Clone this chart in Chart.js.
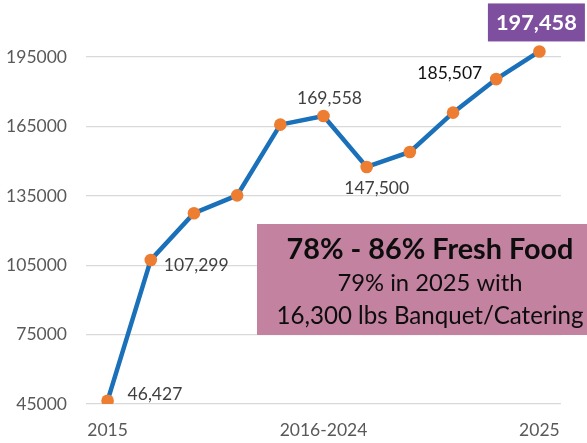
<!DOCTYPE html>
<html>
<head>
<meta charset="utf-8">
<script src="https://cdn.jsdelivr.net/npm/chart.js@4/dist/chart.umd.min.js"></script>
<style>
  html, body { margin: 0; padding: 0; background: #ffffff; }
  #wrap { width: 587px; height: 443px; position: relative; }
</style>
</head>
<body>
<div id="wrap"><canvas id="c"></canvas></div>
<script>
// ---- data ----
const years = ['2015','2016','2017','2018','2019','2020','2021','2022','2023','2024','2025'];
const pounds = [46427, 107299, 127500, 135200, 165800, 169558, 147500, 154000, 171000, 185507, 197458];
const xTickLabels = ['2015','','','','','2016-2024','','','','','2025'];
const yTickValues = [45000, 75000, 105000, 135000, 165000, 195000];
const labelledPoints = [0, 1, 5, 6, 9, 10];
const noteLines = ['78% - 86% Fresh Food', '79% in 2025 with', '16,300 lbs Banquet/Catering'];

// ---- styles ----
const FONT = 'Lato, "Open Sans", sans-serif';
Chart.defaults.font.family = FONT;
const labelStyle = {
  0:  { dx: 20,  dy: -7,  align: 'left',   color: '#404040' },
  1:  { dx: 13,  dy: 4,   align: 'left',   color: '#404040' },
  5:  { dx: 6,   dy: -19, align: 'center', color: '#404040' },
  6:  { dx: 10,  dy: 20,  align: 'center', color: '#404040' },
  9:  { dx: -14, dy: -7,  align: 'right',  color: '#111111' },
  10: { dx: -3,  dy: -29, align: 'center', color: '#ffffff', bold: true, box: '#7F4F9F' }
};
// note box: text lines fitted to target widths
const noteStyle = [
  { bold: true,  width: 287, base: 35 },
  { bold: false, width: 185, base: 67 },
  { bold: false, width: 307, base: 100 }
];

function fitFont(ctx, text, bold, target) {
  let size = 20;
  ctx.font = (bold ? 'bold ' : '') + size + 'px ' + FONT;
  const w = ctx.measureText(text).width;
  size = size * target / w;
  return (bold ? 'bold ' : '') + size.toFixed(2) + 'px ' + FONT;
}

const labelsPlugin = {
  id: 'valueLabels',
  afterDatasetsDraw(chart) {
    const ctx = chart.ctx;
    const meta = chart.getDatasetMeta(0);
    ctx.save();
    labelledPoints.forEach(i => {
      const st = labelStyle[i];
      const el = meta.data[i];
      const text = pounds[i].toLocaleString('en-US');
      const x = el.x + st.dx, y = el.y + st.dy;
      ctx.font = st.bold ? fitFont(ctx, text, true, 81) : '17.5px ' + FONT;
      ctx.textBaseline = 'middle';
      if (st.box) {
        const w = 97, h = 38;
        ctx.fillStyle = st.box;
        ctx.fillRect(x - w / 2, y - h / 2, w, h);
      }
      ctx.fillStyle = st.color;
      ctx.textAlign = st.align;
      ctx.fillText(text, x, y + 1);
    });
    ctx.restore();
  },
  afterDraw(chart) {
    const ctx = chart.ctx;
    const a = chart.chartArea;
    const left = a.left + 171, top = a.top + 190;
    const w = chart.width - left, h = 111;
    ctx.save();
    ctx.fillStyle = '#C3829F';
    ctx.fillRect(left, top, w, h);
    ctx.fillStyle = '#0d0d0d';
    ctx.textAlign = 'center';
    ctx.textBaseline = 'alphabetic';
    const cx = left + 173;
    noteLines.forEach((t, k) => {
      const ns = noteStyle[k];
      ctx.font = fitFont(ctx, t, ns.bold, ns.width);
      ctx.fillText(t, cx, top + ns.base);
    });
    ctx.restore();
  }
};

new Chart(document.getElementById('c'), {
  type: 'line',
  data: {
    labels: years,
    datasets: [{
      data: pounds,
      borderColor: '#1B70BA',
      borderWidth: 4.5,
      pointBackgroundColor: '#ED7D31',
      pointBorderColor: '#ED7D31',
      pointRadius: 6.3,
      pointBorderWidth: 0,
      tension: 0,
      fill: false
    }]
  },
  options: {
    responsive: true,
    maintainAspectRatio: false,
    animation: false,
    events: [],
    layout: { padding: { left: 0, right: 26, top: 34, bottom: 0 } },
    plugins: { legend: { display: false }, tooltip: { enabled: false } },
    scales: {
      x: {
        type: 'category',
        offset: true,
        grid: { display: false, drawTicks: false },
        border: { display: false },
        afterFit: s => { s.height = 39; },
        ticks: {
          autoSkip: false, maxRotation: 0, padding: 16,
          color: '#595959', font: { size: 17.5 },
          callback: (v, i) => xTickLabels[i]
        }
      },
      y: {
        min: 45000, max: 205000,
        afterBuildTicks: s => { s.ticks = yTickValues.map(v => ({ value: v })); },
        afterFit: s => { s.width = 86; },
        grid: { color: '#D9D9D9', lineWidth: 1.3, drawTicks: false },
        border: { display: false },
        ticks: {
          padding: 19, color: '#595959', font: { size: 17.5 },
          callback: v => String(v)
        }
      }
    }
  },
  plugins: [labelsPlugin]
});
</script>
</body>
</html>
